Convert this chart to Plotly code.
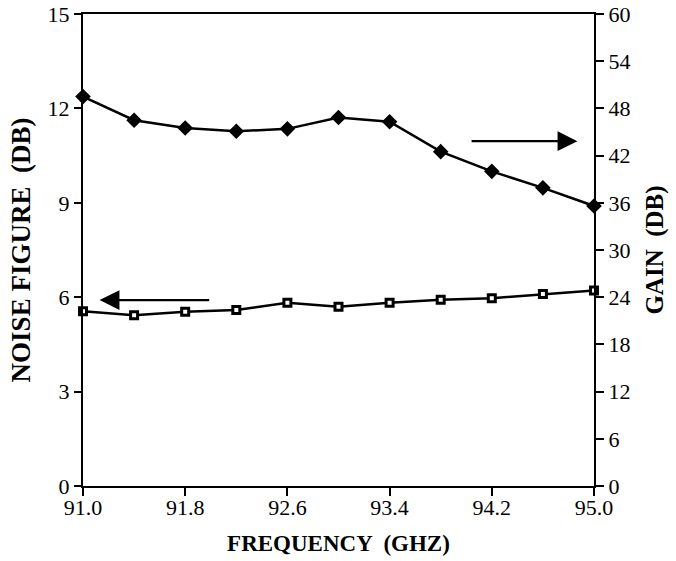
import plotly.graph_objects as go

freq = [91.0, 91.4, 91.8, 92.2, 92.6, 93.0, 93.4, 93.8, 94.2, 94.6, 95.0]
noise_figure = [5.55, 5.43, 5.54, 5.59, 5.82, 5.70, 5.82, 5.92, 5.97, 6.10, 6.21]
gain = [49.5, 46.5, 45.5, 45.1, 45.4, 46.85, 46.3, 42.5, 40.0, 37.9, 35.6]
x_ticks = [91.0, 91.8, 92.6, 93.4, 94.2, 95.0]
nf_ticks = [0, 3, 6, 9, 12, 15]
gain_ticks = [0, 6, 12, 18, 24, 30, 36, 42, 48, 54, 60]

FONT = "Liberation Serif, Times New Roman, serif"

fig = go.Figure()
fig.add_trace(go.Scatter(
    x=freq, y=noise_figure, mode="lines+markers", name="Noise figure",
    line=dict(color="black", width=2.5),
    marker=dict(symbol="square", size=7, color="white", line=dict(color="black", width=3)),
    cliponaxis=False,
))
fig.add_trace(go.Scatter(
    x=freq, y=gain, mode="lines+markers", name="Gain", yaxis="y2",
    line=dict(color="black", width=2.5),
    marker=dict(symbol="diamond", size=12, color="black"),
    cliponaxis=False,
))

# arrows indicating which axis each curve belongs to
fig.add_annotation(x=91.13, y=5.91, ax=92.0, ay=5.91, xref="x", yref="y", axref="x", ayref="y",
                   text="", showarrow=True, arrowhead=2, arrowsize=1.8, arrowwidth=2.2, arrowcolor="black")
fig.add_annotation(x=94.87, y=10.96, ax=94.03, ay=10.96, xref="x", yref="y", axref="x", ayref="y",
                   text="", showarrow=True, arrowhead=2, arrowsize=1.8, arrowwidth=2.2, arrowcolor="black")

fig.update_layout(
    width=676, height=561,
    margin=dict(l=83, r=82, t=14, b=75),
    paper_bgcolor="white", plot_bgcolor="white",
    showlegend=False,
    font=dict(family=FONT, size=22, color="black"),
    xaxis=dict(
        range=[91.0, 95.0], tickvals=x_ticks, ticktext=[f"{v:.1f}" for v in x_ticks],
        showline=True, mirror=True, linecolor="black", linewidth=2,
        ticks="outside", ticklen=8, tickwidth=2, tickcolor="black",
        showgrid=False, zeroline=False, automargin=False, ticklabelstandoff=-7,
        title=dict(text="<b>FREQUENCY  (GHZ)</b>", font=dict(size=23), standoff=15),
    ),
    yaxis=dict(
        range=[0, 15], tickvals=nf_ticks,
        showline=True, linecolor="black", linewidth=2,
        ticks="outside", ticklen=7, tickwidth=2, tickcolor="black",
        showgrid=False, zeroline=False, automargin=False,
        title=dict(text="<b>NOISE FIGURE  (DB)</b>", font=dict(size=27), standoff=9),
    ),
    yaxis2=dict(
        range=[0, 60], tickvals=gain_ticks, overlaying="y", side="right",
        showline=True, linecolor="black", linewidth=2,
        ticks="outside", ticklen=8, tickwidth=2, tickcolor="black",
        showgrid=False, zeroline=False, automargin=False,
        title=dict(text="<b>GAIN  (DB)</b>", font=dict(size=25), standoff=16),
    ),
)

fig.write_html("out.html", config={"displayModeBar": False},
               post_script="document.body.style.margin='0';")
